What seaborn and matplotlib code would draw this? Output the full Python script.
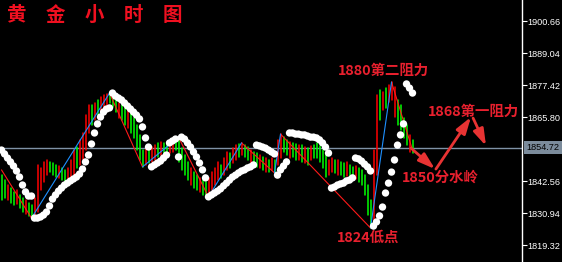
import numpy as np
import pandas as pd
import matplotlib
matplotlib.use("Agg")
import matplotlib.pyplot as plt
import matplotlib.transforms as mtransforms
import seaborn as sns

# ---------------- data ----------------
highs = [1844.7, 1842.9, 1841.1, 1840.0, 1838.6, 1839.3, 1837.5, 1836.4, 1835.7, 1834.6,
         1833.9, 1836.4, 1848.4, 1847.3, 1849.5, 1850.2, 1849.5, 1849.1, 1848.4, 1848.0,
         1847.3, 1846.6, 1847.3, 1850.2, 1853.8, 1854.9, 1857.5, 1860.0, 1866.5, 1870.2,
         1870.2, 1870.9, 1872.0, 1873.1, 1873.8, 1874.2, 1874.5, 1873.8, 1872.0, 1870.9,
         1870.2, 1869.1, 1868.3, 1867.3, 1865.4, 1862.9, 1859.3, 1853.8, 1854.5, 1853.8,
         1854.9, 1855.6, 1856.4, 1856.7, 1856.4, 1856.7, 1857.5, 1858.2, 1857.8, 1858.5,
         1854.5, 1852.0, 1849.5, 1847.3, 1845.8, 1844.7, 1843.7, 1842.9, 1842.2, 1843.7,
         1845.8, 1847.3, 1849.5, 1848.4, 1850.9, 1853.1, 1852.7, 1854.5, 1855.6, 1856.0,
         1856.4, 1855.6, 1854.9, 1853.8, 1853.1, 1852.7, 1852.0, 1851.3, 1850.9, 1850.2,
         1850.9, 1850.2, 1857.5, 1859.6, 1858.5, 1857.5, 1856.7, 1856.4, 1856.0, 1855.6,
         1855.6, 1854.9, 1854.5, 1855.3, 1855.6, 1856.4, 1855.3, 1853.8, 1852.0, 1850.2,
         1850.9, 1850.2, 1850.2, 1849.5, 1849.1, 1849.5, 1848.4, 1847.7, 1848.0, 1847.3,
         1846.6, 1844.7, 1841.1, 1835.7, 1853.8, 1873.8, 1875.6, 1874.9, 1876.3, 1877.4,
         1878.5, 1876.7, 1872.0, 1870.2, 1865.4, 1862.9, 1859.3, 1857.5]
lows = [1835.7, 1836.4, 1835.7, 1834.6, 1833.9, 1834.2, 1832.8, 1831.3, 1830.6, 1829.9,
        1829.1, 1830.2, 1831.3, 1839.3, 1842.2, 1844.7, 1845.8, 1844.7, 1844.0, 1843.7,
        1842.9, 1842.2, 1841.1, 1842.9, 1844.7, 1847.3, 1848.4, 1850.2, 1853.8, 1860.0,
        1862.9, 1864.7, 1866.5, 1868.3, 1869.1, 1870.2, 1870.9, 1869.4, 1867.6, 1865.4,
        1864.7, 1862.9, 1861.8, 1860.0, 1858.2, 1853.8, 1850.2, 1847.7, 1848.4, 1849.1,
        1849.5, 1850.2, 1851.3, 1852.0, 1851.3, 1852.0, 1852.7, 1853.1, 1853.8, 1849.5,
        1846.6, 1844.7, 1842.9, 1841.1, 1840.0, 1839.3, 1838.6, 1837.5, 1837.1, 1836.8,
        1839.3, 1841.1, 1842.9, 1843.7, 1844.7, 1846.6, 1847.3, 1849.1, 1850.2, 1851.3,
        1852.0, 1851.3, 1850.2, 1849.1, 1848.0, 1847.7, 1847.3, 1846.6, 1845.8, 1845.8,
        1846.6, 1845.5, 1848.4, 1850.9, 1853.1, 1852.0, 1850.9, 1851.3, 1850.2, 1850.2,
        1849.5, 1849.1, 1848.4, 1850.2, 1850.9, 1850.9, 1849.5, 1847.3, 1844.0, 1844.7,
        1845.8, 1845.5, 1844.7, 1844.7, 1844.0, 1844.4, 1843.7, 1842.9, 1843.3, 1842.2,
        1841.1, 1837.5, 1830.2, 1825.5, 1827.7, 1844.7, 1864.7, 1868.3, 1869.1, 1871.3,
        1872.0, 1865.8, 1862.9, 1861.1, 1858.2, 1855.6, 1853.1, 1852.7]
bar_colors = ("GGRGGRGGRG" "GRRRRRGGGR" "GGRRRGRRRR" "GRGRRRGGGR" "GGRGGGGGRG"
              "RRGRGGRRGG" "GGGRGGRGGR" "RRRGRRGRRG" "RGGRGGRGRG" "RGRRGGRGGR"
              "GRGRGGGGGR" "RGRGGRGGRG" "GGGGRRGRGR" "RRGGGGRG")
sar = [1853.8, 1852.4, 1850.9, 1849.5, 1848.0, 1846.2, 1844.0, 1841.1, 1838.6, 1837.1, 1837.1,
       1829.1, 1829.1, 1829.5, 1830.2, 1831.3, 1833.5, 1836.0, 1837.5, 1838.9, 1840.0,
       1841.1, 1841.8, 1842.6, 1843.3, 1844.0, 1845.1, 1846.9, 1849.5, 1852.0, 1856.0,
       1860.0, 1863.3, 1865.8, 1867.6, 1868.7, 1869.1,
       1874.5, 1873.4, 1872.7, 1872.0, 1870.9, 1869.8, 1868.7, 1867.6, 1866.5, 1865.1,
       1862.2, 1858.2, 1854.9,
       1847.7, 1848.4, 1849.1, 1849.8, 1850.9, 1852.0,
       1856.4, 1857.1, 1857.8, 1851.3,
       1858.5, 1857.8, 1856.4, 1854.9, 1853.1, 1851.3, 1849.1, 1846.6, 1843.7,
       1836.8, 1837.5, 1838.2, 1838.9, 1839.7, 1840.8, 1841.8, 1842.9, 1844.0, 1844.7,
       1845.5, 1846.2, 1846.6, 1847.3, 1847.7, 1848.4,
       1855.6, 1855.3, 1854.9, 1854.5, 1853.8, 1853.1, 1852.4,
       1844.7, 1846.6, 1848.0, 1849.5,
       1860.0, 1860.0, 1859.6, 1859.6, 1859.3, 1859.3, 1858.9, 1858.5, 1858.5, 1858.2,
       1857.5, 1856.4, 1854.9, 1852.7,
       1840.0, 1840.4, 1841.1, 1841.5, 1841.8, 1842.6, 1842.9, 1843.7,
       1850.9, 1850.6, 1849.8, 1848.7, 1847.7, 1846.2,
       1826.2, 1827.7, 1829.9, 1833.1, 1838.2, 1841.8, 1845.8, 1850.2, 1855.6, 1859.3, 1863.3,
       1877.8, 1876.3, 1874.5]
zz_idx = [0, 10, 36, 47, 59, 69, 80, 91, 93, 123, 130, 137]
zz_val = [1846.6, 1829.1, 1874.5, 1847.7, 1858.5, 1836.8, 1856.4, 1845.5, 1859.6,
          1825.5, 1878.5, 1853.8]
ytick_values = [1900.66, 1889.04, 1877.42, 1865.80, 1842.56, 1830.94, 1819.32]
last_price = 1854.72
title_text = "黄　金　小　时　图"
note_texts = ["1880第二阻力", "1868第一阻力", "1850分水岭", "1824低点"]
note_x = [112.2, 142.2, 133.5, 111.8]
note_y = [1882.5, 1867.6, 1843.7, 1821.9]
arrow_start = [(136.5, 1854.5), (144.8, 1846.9), (157.2, 1865.4)]
arrow_end = [(144.5, 1846.9), (156.5, 1865.8), (161.5, 1855.3)]

# ---------------- style ----------------
sns.set_theme(style="dark", rc={"axes.facecolor": "black", "figure.facecolor": "black",
                                "axes.grid": False})
plt.rcParams["font.family"] = ["Noto Sans CJK SC", "DejaVu Sans"]
tick_font = ["Liberation Sans", "DejaVu Sans"]

W, H = 562, 262
fig = plt.figure(figsize=(W / 100, H / 100), dpi=100)
ax = fig.add_axes([0, 0, 521.5 / W, 1])
ax.set_facecolor("black")

n = len(highs)
idx = np.arange(n)

# bars
bars_df = pd.DataFrame({
    "bar": np.repeat(idx, 2),
    "price": np.column_stack([lows, highs]).ravel(),
    "dir": np.repeat(list(bar_colors), 2),
})
sns.lineplot(data=bars_df, x="bar", y="price", units="bar", estimator=None, hue="dir",
             palette={"R": "#ff0000", "G": "#00ff00"}, lw=1.1, legend=False, sort=False,
             ax=ax, zorder=2)

# zigzag
seg_rows = []
for k in range(len(zz_idx) - 1):
    d = "up" if zz_val[k + 1] > zz_val[k] else "down"
    seg_rows.append((k, zz_idx[k], zz_val[k], d))
    seg_rows.append((k, zz_idx[k + 1], zz_val[k + 1], d))
zz_df = pd.DataFrame(seg_rows, columns=["seg", "x", "y", "dir"])
sns.lineplot(data=zz_df, x="x", y="y", units="seg", estimator=None, hue="dir",
             palette={"up": "#1e90ff", "down": "#ff1a1a"}, lw=0.8, legend=False,
             sort=False, ax=ax, zorder=3)

# parabolic SAR dots
sns.scatterplot(x=idx, y=sar, color="white", s=28, edgecolor="none", ax=ax, zorder=4)

# last price line
ax.axhline(last_price, color="#7f92a6", lw=1.0, zorder=1)

# axes limits
ax.set_xlim(-0.5, 173.33)
ax.set_ylim(1813.15, 1908.29)
ax.set_xlabel("")
ax.set_ylabel("")
ax.set_xticks([])
ax.yaxis.tick_right()
ax.set_yticks(ytick_values)
ax.set_yticklabels([f"{v:.2f}" for v in ytick_values])
ax.tick_params(axis="y", colors="white", length=3.5, width=0.8, pad=0.6, labelsize=6.6,
               direction="out", right=True, left=False)
for lbl in ax.get_yticklabels():
    lbl.set_fontfamily(tick_font)
for s in ["left", "top", "bottom"]:
    ax.spines[s].set_visible(False)
ax.spines["right"].set_color("white")
ax.spines["right"].set_linewidth(1.0)

# last price box
trans = mtransforms.blended_transform_factory(ax.transAxes, ax.transData)
ax.text(1.0 + 5 / 521.5, last_price, f"{last_price:.2f}", transform=trans, ha="left",
        va="center", fontsize=6.6, color="black", clip_on=False, fontfamily=tick_font,
        bbox=dict(boxstyle="square,pad=0.25", fc="#7b8b9b", ec="none"))

# title
ax.text(7 / 521.5, 1 - 15 / 262, title_text, transform=ax.transAxes, ha="left",
        va="center", fontsize=14, color="#f01020", fontweight="bold")

# annotations
red = "#e8202e"
for t, x, y in zip(note_texts, note_x, note_y):
    ax.text(x, y, t, ha="left", va="center", fontsize=10.4, color=red,
            fontweight="bold", clip_on=False)
for s0, s1 in zip(arrow_start, arrow_end):
    ax.annotate("", xy=s1, xytext=s0,
                arrowprops=dict(arrowstyle="-|>,head_length=1.1,head_width=0.35",
                                color="#e83333", lw=2.0, shrinkA=0, shrinkB=0,
                                mutation_scale=9))

fig.savefig("out.png", dpi=100, facecolor="black")
